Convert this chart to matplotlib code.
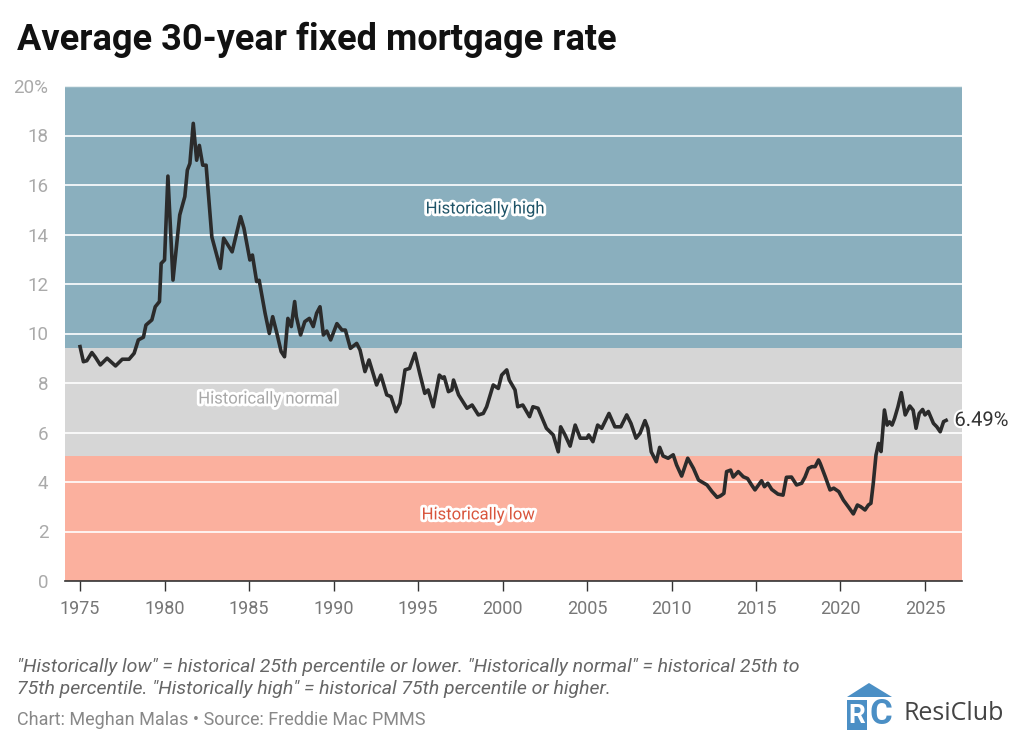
import matplotlib
matplotlib.use("Agg")
import matplotlib.pyplot as plt
import matplotlib.patheffects as pe
from matplotlib.patches import Polygon, Rectangle

# ---------------- data ----------------
years = [1975.0, 1975.2, 1975.4, 1975.7, 1975.9, 1976.2, 1976.6, 1977.1, 1977.5, 1977.9,
         1978.2, 1978.45, 1978.75, 1978.9, 1979.25, 1979.45, 1979.7, 1979.8, 1980.0, 1980.2,
         1980.5, 1980.9, 1981.2, 1981.35, 1981.5, 1981.7, 1981.9, 1982.06, 1982.26, 1982.46,
         1982.8, 1983.3, 1983.5, 1984.0, 1984.5, 1984.7, 1985.05, 1985.2, 1985.45, 1985.6,
         1985.95, 1986.2, 1986.4, 1986.65, 1986.9, 1987.1, 1987.3, 1987.5, 1987.7, 1987.8,
         1988.05, 1988.3, 1988.57, 1988.8, 1989.0, 1989.2, 1989.4, 1989.6, 1989.83, 1990.2,
         1990.5, 1990.7, 1991.0, 1991.37, 1991.57, 1991.86, 1992.1, 1992.55, 1992.8, 1993.15,
         1993.4, 1993.7, 1993.93, 1994.23, 1994.5, 1994.82, 1995.1, 1995.4, 1995.6, 1995.9,
         1996.26, 1996.46, 1996.55, 1996.8, 1997.0, 1997.1, 1997.4, 1997.9, 1998.2, 1998.57,
         1998.86, 1999.06, 1999.45, 1999.75, 1999.95, 2000.25, 2000.4, 2000.74, 2000.9, 2001.2,
         2001.6, 2001.8, 2002.1, 2002.6, 2003.0, 2003.3, 2003.44, 2003.7, 2004.0, 2004.3,
         2004.6, 2005.0, 2005.1, 2005.35, 2005.63, 2005.87, 2006.3, 2006.65, 2007.0, 2007.35,
         2007.6, 2007.9, 2008.14, 2008.43, 2008.6, 2008.8, 2009.1, 2009.3, 2009.5, 2009.8,
         2010.1, 2010.3, 2010.6, 2010.96, 2011.3, 2011.6, 2012.1, 2012.4, 2012.7, 2012.9,
         2013.1, 2013.26, 2013.5, 2013.65, 2013.95, 2014.25, 2014.5, 2014.74, 2014.94, 2015.33,
         2015.5, 2015.7, 2015.93, 2016.3, 2016.6, 2016.8, 2017.1, 2017.4, 2017.7, 2017.9,
         2018.1, 2018.3, 2018.5, 2018.7, 2018.8, 2019.1, 2019.38, 2019.6, 2019.9, 2020.17,
         2020.46, 2020.76, 2021.0, 2021.2, 2021.45, 2021.65, 2021.8, 2021.94, 2022.1, 2022.25,
         2022.4, 2022.6, 2022.76, 2022.9, 2023.05, 2023.2, 2023.4, 2023.6, 2023.83, 2024.1,
         2024.3, 2024.47, 2024.66, 2024.86, 2025.0, 2025.2, 2025.5, 2025.7, 2025.9, 2026.1,
         2026.25]
rates = [9.47, 8.86, 8.9, 9.23, 9.05, 8.73, 9.0, 8.69, 8.96, 8.96,
         9.2, 9.74, 9.85, 10.34, 10.55, 11.08, 11.29, 12.83, 12.97, 16.36,
         12.16, 14.79, 15.53, 16.6, 16.87, 18.49, 17.0, 17.6, 16.8, 16.8,
         13.9, 12.63, 13.85, 13.3, 14.72, 14.25, 12.97, 13.17, 12.1, 12.15,
         10.82, 10.0, 10.68, 10.0, 9.27, 9.06, 10.61, 10.28, 11.29, 10.68,
         9.94, 10.48, 10.61, 10.28, 10.82, 11.08, 9.94, 10.1, 9.74, 10.4,
         10.14, 10.14, 9.4, 9.6, 9.33, 8.46, 8.93, 7.92, 8.32, 7.52,
         7.45, 6.84, 7.18, 8.53, 8.59, 9.2, 8.39, 7.58, 7.72, 7.04,
         8.32, 8.19, 8.25, 7.65, 7.72, 8.12, 7.52, 6.98, 7.11, 6.71,
         6.77, 7.04, 7.92, 7.78, 8.32, 8.53, 8.12, 7.72, 7.04, 7.11,
         6.64, 7.04, 6.98, 6.17, 5.9, 5.22, 6.23, 5.9, 5.45, 6.3,
         5.77, 5.77, 5.9, 5.63, 6.3, 6.17, 6.77, 6.23, 6.23, 6.71,
         6.37, 5.77, 5.97, 6.48, 6.17, 5.22, 4.82, 5.4, 5.05, 4.96,
         5.1, 4.69, 4.24, 4.96, 4.55, 4.08, 3.88, 3.61, 3.38, 3.44,
         3.54, 4.42, 4.48, 4.2, 4.42, 4.21, 4.14, 3.88, 3.68, 4.05,
         3.81, 3.95, 3.7, 3.51, 3.47, 4.19, 4.2, 3.88, 3.95, 4.2,
         4.55, 4.62, 4.62, 4.89, 4.75, 4.21, 3.68, 3.75, 3.61, 3.27,
         3.0, 2.71, 3.07, 3.0, 2.87, 3.07, 3.14, 3.95, 5.09, 5.56,
         5.23, 6.91, 6.3, 6.43, 6.3, 6.57, 7.04, 7.61, 6.71, 7.07,
         6.9, 6.17, 6.77, 6.93, 6.71, 6.85, 6.37, 6.23, 6.03, 6.44,
         6.49]

band_names = ["Historically low", "Historically normal", "Historically high"]
band_edges = [0, 5.05, 9.4, 20]
band_colors = ["#fbb09e", "#d6d6d6", "#8aafbe"]
band_text_colors = ["#d9553c", "#a8a8a8", "#1f5468"]
band_label_x = [1998.55, 1986.1, 1998.95]
band_label_y = [2.67, 7.35, 15.03]

x_ticks = [1975, 1980, 1985, 1990, 1995, 2000, 2005, 2010, 2015, 2020, 2025]
y_ticks = [0, 2, 4, 6, 8, 10, 12, 14, 16, 18, 20]
y_tick_labels = ["0", "2", "4", "6", "8", "10", "12", "14", "16", "18", "20%"]

title = "Average 30-year fixed mortgage rate"
footnote = ('"Historically low" = historical 25th percentile or lower. "Historically normal" = historical 25th to\n'
            '75th percentile. "Historically high" = historical 75th percentile or higher.')
credit = "Chart: Meghan Malas \u2022 Source: Freddie Mac PMMS"

# ---------------- plot ----------------
plt.rcParams["font.family"] = ["Roboto", "DejaVu Sans"]

fig = plt.figure(figsize=(10.24, 7.48), dpi=100)
ax = fig.add_axes([65 / 1024, 1 - 581 / 748, (962 - 65) / 1024, (581 - 86) / 748])

for i in range(3):
    ax.axhspan(band_edges[i], band_edges[i + 1], color=band_colors[i], zorder=0, lw=0)
    ax.text(band_label_x[i], band_label_y[i], band_names[i], ha="center", va="center",
            fontsize=12, color=band_text_colors[i], zorder=5,
            path_effects=[pe.withStroke(linewidth=4, foreground="white")])

for yv in y_ticks[1:-1]:
    ax.axhline(yv, color="white", lw=1.2, zorder=1)
ax.axhline(20, color="#e6eef0", lw=1.0, zorder=1)

ax.plot(years, rates, color="#2b2b2b", lw=2.6, zorder=4, solid_joinstyle="round")

ax.annotate(f"{rates[-1]:.2f}%", xy=(years[-1], rates[-1]), xytext=(6, 0),
            textcoords="offset points", ha="left", va="center", fontsize=14.5, color="#333333",
            zorder=6, annotation_clip=False,
            path_effects=[pe.withStroke(linewidth=3, foreground="white")])

ax.set_xlim(1974.11, 2027.19)
ax.set_ylim(0, 20)
ax.set_xticks(x_ticks)
ax.set_xticklabels([str(t) for t in x_ticks], fontsize=13, color="#777777")
ax.set_yticks(y_ticks)
ax.set_yticklabels(y_tick_labels, fontsize=13.5, color="#aaaaaa")
ax.tick_params(axis="y", length=0, pad=12)
ax.tick_params(axis="x", length=7, width=1, color="#333333", pad=7)
for s in ["top", "right", "left"]:
    ax.spines[s].set_visible(False)
ax.spines["bottom"].set_color("#333333")
ax.spines["bottom"].set_linewidth(1.2)
ax.spines["bottom"].set_zorder(6)

fig.text(17 / 1024, 1 - 40 / 748, title, fontsize=26, fontweight="bold", color="#111111",
         ha="left", va="center")
fig.text(17 / 1024, 1 - 678 / 748, footnote, fontsize=14, style="italic", color="#666666",
         ha="left", va="center", linespacing=1.3)
fig.text(17 / 1024, 1 - 720 / 748, credit, fontsize=13, color="#888888", ha="left", va="center")

# ---------------- logo ----------------
lax = fig.add_axes([0, 0, 1, 1], zorder=10)
lax.set_xlim(0, 1024)
lax.set_ylim(748, 0)
lax.axis("off")
blue = "#4b8fc5"
lax.add_patch(Polygon([(847, 697), (869, 683), (892, 697)], closed=True, color=blue, lw=0))
lax.add_patch(Rectangle((847, 700), 20, 30, color=blue, lw=0))
lax.text(857, 716, "R", fontsize=19, fontweight="bold", color="white", ha="center", va="center")
lax.text(881, 715, "C", fontsize=25, fontweight="bold", color=blue, ha="center", va="center")
lax.text(903, 714, "ResiClub", fontsize=18, color="#444444", ha="left", va="center",
         family=["Open Sans", "DejaVu Sans"])

fig.savefig("out.png", dpi=100)
